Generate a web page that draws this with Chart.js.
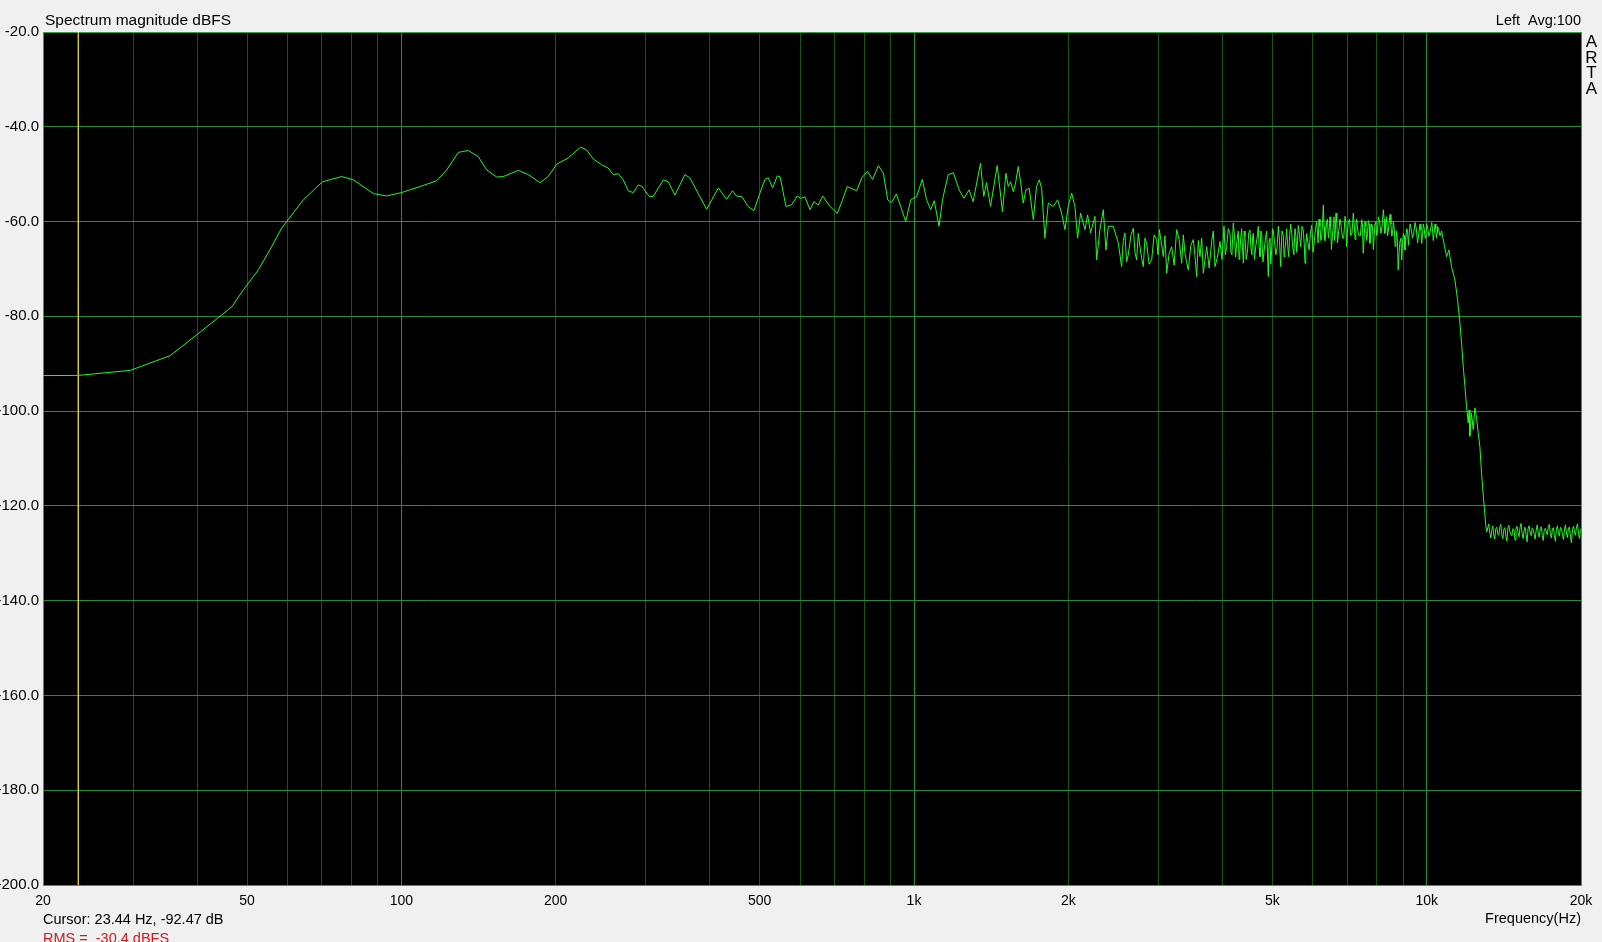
<!DOCTYPE html>
<html>
<head>
<meta charset="utf-8">
<title>Spectrum magnitude dBFS</title>
<script src="https://cdn.jsdelivr.net/npm/chart.js@4.4.1/dist/chart.umd.min.js"></script>
<style>
  html, body { margin: 0; padding: 0; background: #f0f0f0; }
  canvas { display: block; }
</style>
</head>
<body>
<canvas id="spectre" width="1602" height="942"></canvas>
<script>
const lowFreq = [20, 23.44, 29.6, 35.4, 39.9, 46.7, 49.2, 52.6, 55.4, 58.4, 64.4, 70.2, 76.5, 80.6, 88.2, 93.6, 100, 108.8, 117.2, 122.6,
  129.2, 135.1, 141.3, 146.7, 153.4, 158.1, 169.1, 176.9, 186.4, 193.4, 200.9, 211.5, 223.7, 229.8, 236.8, 245.8, 253.2, 259, 265, 270.9,
  277.1, 283.3, 289.8, 294.2, 304.5, 310, 324.3, 331.6, 341.7, 357.4, 365.5, 394, 415.3, 430.9, 442.7, 450, 462.3, 474.2, 487.2];
const lowDb = [-92.5, -92.47, -91.4, -88.3, -83.9, -78.0, -74.4, -70.2, -66.0, -61.4, -55.4, -51.6, -50.5, -51.2, -54.1, -54.6, -53.9, -52.6, -51.4, -49.1,
  -45.4, -45.0, -46.3, -49.1, -50.6, -50.5, -49.2, -50.1, -51.8, -50.5, -47.9, -46.6, -44.3, -44.9, -46.8, -48.0, -48.7, -50.1, -49.9, -51.2,
  -53.5, -53.9, -52.3, -52.5, -54.7, -54.7, -51.2, -51.6, -54.4, -50.1, -50.8, -57.4, -52.9, -55.3, -53.5, -54.6, -54.8, -56.8, -57.7];

const midFreq = [500.6, 512, 519.8, 530, 541, 548, 562.7, 577, 592, 601, 612.8, 626.7, 638, 650.6, 663.5, 685.6, 708.5, 725, 741, 773,
  790.7, 811, 830.6, 852, 871.4, 888.6, 903.4, 923.8, 942, 963.5, 985.3, 1012, 1038, 1058, 1078, 1095, 1119, 1137, 1166, 1193,
  1225, 1251, 1281, 1304, 1348, 1368, 1385, 1410, 1453, 1488, 1511, 1527, 1543, 1562, 1578, 1597, 1614, 1633, 1653, 1678,
  1709, 1734, 1755, 1774, 1800, 1828, 1869, 1906, 1940, 1970, 1999, 2030, 2060, 2085, 2113, 2155, 2181, 2210, 2254, 2271,
  2305, 2340, 2368, 2393, 2447, 2503];
const midDb = [-54.0, -51.1, -50.8, -52.9, -50.4, -50.5, -56.8, -56.5, -54.6, -55.1, -54.8, -57.5, -55.8, -56.5, -54.6, -56.8, -58.3, -55.5, -52.6, -53.5,
  -50.8, -49.4, -51.1, -48.2, -49.8, -55.4, -56.0, -54.2, -56.8, -60.0, -55.4, -54.7, -51.1, -55.4, -57.5, -55.6, -61.0, -55.3, -50.1, -49.7,
  -53.3, -55.1, -53.3, -55.8, -47.7, -54.7, -51.8, -56.8, -48.2, -57.9, -49.8, -52.6, -51.6, -53.7, -51.9, -48.4, -51.6, -56.1, -53.3, -53.0,
  -59.6, -52.6, -51.2, -53.0, -63.5, -56.1, -56.8, -55.4, -58.2, -61.7, -56.8, -54.0, -56.8, -63.5, -58.2, -61.7, -58.6, -62.4, -58.9, -68.1,
  -61.7, -57.5, -66.0, -61.0, -61.0, -64.5];

const hfFreq = [2541, 2579, 2618, 2678, 2718, 2759, 2801, 2843, 2908, 2974,
  3010, 3064, 3110, 3181, 3253, 3327, 3377, 3428, 3506, 3559,
  3613, 3667, 3723, 3807, 3864, 3952, 4024, 4072, 4134, 4170,
  4196, 4240, 4291, 4320, 4356, 4390, 4422, 4470, 4522, 4560,
  4591, 4640, 4695, 4730, 4766, 4820, 4874, 4910, 4947, 4985,
  5022, 5080, 5136, 5190, 5253, 5290, 5332, 5380, 5429, 5480,
  5535, 5580, 5619, 5680, 5747, 5790, 5833, 5900, 5966, 6040,
  6101, 6140, 6193, 6240, 6287, 6330, 6381, 6430, 6478, 6520,
  6576, 6610, 6655, 6700, 6776, 6850, 6929, 6980, 7034, 7110,
  7193, 7250, 7302, 7380, 7468, 7520, 7581, 7640, 7695, 7750,
  7811, 7870, 7929, 7990, 8049, 8140, 8232, 8290, 8356, 8420,
  8482, 8550, 8610, 8680, 8740, 8800, 8872, 8940, 9006, 9070,
  9142, 9210, 9280, 9380, 9491, 9600, 9706, 9780, 9853, 9930,
  10001, 10100, 10229, 10300, 10383, 10454, 10500, 10619, 10772];
const hfDb = [-69.5, -62.4, -67.0, -61.4, -68.1, -65.3, -69.5, -64.6, -68.1, -63.8,
  -61.7, -67.4, -70.9, -65.3, -61.7, -68.8, -66.7, -70.2, -63.8, -71.6,
  -67.4, -70.9, -65.3, -64.2, -69.5, -64.2, -61.0, -65.3, -62.5, -67.0,
  -60.3, -67.5, -62.0, -66.7, -61.5, -68.8, -63.0, -66.5, -61.8, -67.0,
  -62.5, -65.3, -61.0, -67.4, -62.5, -66.0, -62.0, -71.6, -63.5, -66.0,
  -62.0, -67.0, -61.0, -69.5, -63.0, -66.0, -61.5, -67.4, -60.5, -65.5,
  -61.5, -66.5, -60.8, -65.3, -62.0, -68.8, -62.5, -66.0, -60.8, -64.0,
  -60.0, -64.5, -61.0, -63.5, -56.5, -64.0, -60.0, -63.5, -59.0, -65.9,
  -60.5, -64.0, -58.2, -64.5, -59.5, -63.5, -58.9, -65.3, -60.0, -63.0,
  -58.2, -63.8, -59.5, -63.0, -59.6, -66.7, -60.0, -64.0, -59.8, -64.6,
  -60.5, -65.9, -60.5, -63.0, -59.0, -62.5, -57.5, -62.5, -59.0, -62.0,
  -58.5, -63.1, -60.0, -65.3, -62.0, -70.2, -64.0, -68.1, -62.5, -66.0,
  -61.5, -65.0, -60.5, -63.5, -60.2, -64.5, -60.5, -64.6, -60.5, -63.5,
  -60.5, -63.1, -60.2, -64.0, -60.5, -63.5, -61.0, -63.0, -63.8];

// pics intermediaires du bruit 2.5k - 10.7k
const hfFreqExtra = [2560, 2598, 2648, 2698, 2738, 2780, 2822, 2875, 2940, 2992,
  3037, 3087, 3145, 3217, 3290, 3352, 3402, 3467, 3532, 3586,
  3640, 3695, 3765, 3835, 3908, 3988, 4048, 4103, 4152, 4183,
  4218, 4265, 4305, 4338, 4373, 4406, 4446, 4496, 4541, 4575,
  4615, 4668, 4712, 4748, 4793, 4847, 4892, 4928, 4966, 5003,
  5051, 5108, 5163, 5221, 5271, 5311, 5356, 5404, 5454, 5507,
  5557, 5600, 5650, 5713, 5768, 5811, 5866, 5933, 6003,
  6070, 6120, 6166, 6216, 6263, 6308, 6355, 6405, 6454, 6499,
  6548, 6593, 6632, 6677, 6738, 6813, 6890, 6954, 7007, 7072,
  7150, 7221, 7276, 7341, 7424, 7494, 7550, 7610, 7667, 7722,
  7780, 7840, 7900, 7960, 8020, 8095, 8186, 8261, 8323, 8388,
  8451, 8516, 8580, 8645, 8710, 8770, 8836, 8906, 8973, 9038,
  9106, 9176, 9245, 9330, 9435, 9545, 9653, 9743, 9816, 9891,
  9965, 10050, 10165, 10265, 10341, 10418, 10477, 10560, 10695];
const hfDbExtra = [-64.0, -68.5, -63.0, -66.5, -62.5, -67.8, -63.5, -69.0, -62.8, -67.0,
  -64.5, -63.0, -66.8, -69.2, -63.8, -62.8, -68.5, -65.0, -67.2, -64.0,
  -63.5, -68.0, -69.8, -62.0, -67.5, -68.0, -67.0, -61.5, -66.5, -63.5,
  -63.0, -64.0, -68.0, -63.5, -65.5, -62.0, -68.0, -62.5, -65.5, -63.5,
  -68.0, -63.5, -65.5, -62.0, -68.5, -63.5, -66.5, -64.0, -69.0, -61.5,
  -64.5, -65.5, -64.0, -62.0, -67.5, -64.0, -65.0, -63.0, -62.5, -67.0,
  -63.0, -64.0, -63.0, -61.0, -64.5, -65.5, -64.5, -62.5, -66.5,
  -61.5, -62.0, -59.5, -64.0, -60.5, -61.0, -62.5, -59.5, -62.0, -61.0,
  -63.0, -59.0, -62.5, -60.0, -62.0, -61.0, -63.5, -60.0, -62.0, -59.5,
  -62.5, -60.5, -61.0, -62.0, -63.0, -60.5, -63.5, -61.0, -62.5, -60.5,
  -62.0, -61.0, -63.0, -60.0, -62.0, -60.0, -61.0, -59.5, -61.0, -63.0,
  -60.0, -60.5, -62.5, -61.5, -64.0, -64.5, -66.5, -63.5, -64.5, -63.0,
  -63.5, -62.0, -62.5, -61.5, -62.5, -61.5, -62.5, -61.8, -62.5, -61.5,
  -62.5, -61.5, -62.0, -61.5, -62.5, -61.5, -62.5, -61.8, -62.0];

const rolloffFreq = [10934, 11050, 11182, 11352, 11489, 11610, 11696, 11784, 11873, 11961, 12051,
  12100, 12142, 12230, 12324, 12417, 12510, 12605, 12700, 12795, 12930, 13046];
const rolloffDb = [-67.4, -66.0, -69.5, -72.3, -76.5, -81.4, -85.6, -90.5, -94.8, -99.0, -102.5,
  -99.8, -105.3, -100.5, -103.9, -99.3, -101.5, -104.5, -107.5, -113.1, -119.4, -124.3];

const floorFreq = [13100, 13220, 13340, 13460, 13580, 13700, 13830, 13950, 14080, 14210,
  14340, 14470, 14600, 14730, 14870, 15000, 15140, 15280, 15420, 15560,
  15700, 15840, 15990, 16130, 16280, 16430, 16580, 16730, 16880, 17040,
  17190, 17350, 17510, 17670, 17830, 17990, 18150, 18320, 18480, 18650,
  18820, 18990, 19160, 19340, 19510, 19690, 19870, 20000];
const floorDb = [-125.5, -123.8, -126.8, -124.2, -127.0, -124.5, -126.2, -123.9, -126.9, -124.6,
  -127.4, -124.1, -126.0, -124.8, -127.2, -124.3, -126.5, -123.7, -126.9, -124.5,
  -127.6, -124.2, -126.3, -124.9, -127.0, -124.0, -126.6, -124.4, -127.3, -124.7,
  -126.1, -123.9, -126.8, -124.6, -127.5, -124.2, -126.4, -124.8, -127.1, -124.0,
  -126.7, -124.5, -127.8, -124.3, -126.2, -123.8, -126.9, -124.8];
const floorFreqExtra = [13160, 13280, 13400, 13520, 13640, 13765, 13890, 14015, 14145, 14275,
  14405, 14535, 14665, 14800, 14935, 15070, 15210, 15350, 15490, 15630,
  15770, 15915, 16060, 16205, 16355, 16505, 16655, 16805, 16960, 17115,
  17270, 17430, 17590, 17750, 17910, 18070, 18235, 18400, 18565, 18735,
  18905, 19075, 19250, 19425, 19600, 19780, 19935];
const floorDbExtra = [-124.6, -125.8, -125.0, -126.2, -124.8, -125.9, -124.4, -126.0, -124.9, -126.5,
  -124.6, -125.5, -126.3, -125.0, -124.9, -125.6, -124.6, -125.8, -125.2, -126.1,
  -124.8, -125.7, -124.6, -126.0, -125.1, -125.8, -124.7, -126.2, -125.0, -125.5,
  -124.4, -125.9, -124.8, -126.3, -124.9, -125.6, -124.5, -126.0, -125.1, -125.7,
  -124.6, -126.4, -125.0, -125.5, -124.4, -125.9, -125.2];

// curseur
const cursorHz = 23.44;
const cursorDb = -92.47;

// graduations
const xGridValues = [20, 30, 40, 50, 60, 70, 80, 90, 100, 200, 300, 400, 500, 600, 700, 800, 900,
  1000, 2000, 3000, 4000, 5000, 6000, 7000, 8000, 9000, 10000, 20000];
const xLabelValues = [20, 50, 100, 200, 500, 1000, 2000, 5000, 10000, 20000];
const xLabelTexts = ['20', '50', '100', '200', '500', '1k', '2k', '5k', '10k', '20k'];
const xMajorValues = [100, 1000, 10000];
const yMin = -200, yMax = -20, yStep = 20;

function paires(freqs, niveaux) {
  return freqs.map(function(f, i) { return { x: f, y: niveaux[i] }; });
}

const trace = [].concat(
  paires(lowFreq, lowDb),
  paires(midFreq, midDb),
  paires(hfFreq, hfDb),
  paires(hfFreqExtra, hfDbExtra),
  paires(rolloffFreq, rolloffDb),
  paires(floorFreq, floorDb),
  paires(floorFreqExtra, floorDbExtra)
).sort(function(a, b) { return a.x - b.x; });

const police = '"Liberation Sans", Arial, sans-serif';
const couleurMineure = 'rgb(22,86,30)';
const couleurMajeure = 'rgb(42,140,54)';
const couleurCadre = 'rgb(52,160,62)';

const textesArta = {
  id: 'textesArta',
  beforeDraw: function(chart) {
    const a = chart.chartArea, c = chart.ctx;
    c.save();
    c.fillStyle = '#000';
    c.fillRect(a.left, a.top, a.right - a.left, a.bottom - a.top);
    c.restore();
  },
  afterDraw: function(chart) {
    const c = chart.ctx;
    c.save();
    c.fillStyle = '#000';
    c.textBaseline = 'alphabetic';

    c.font = '15.5px ' + police;
    c.textAlign = 'left';
    c.fillText('Spectrum magnitude dBFS', 45, 25);

    c.font = '14.5px ' + police;
    c.textAlign = 'right';
    c.fillText('Left  Avg:100', 1581, 25);

    c.font = '17px ' + police;
    c.textAlign = 'center';
    ['A', 'R', 'T', 'A'].forEach(function(l, i) {
      c.fillText(l, 1591.5, 47 + i * 15.6);
    });

    c.font = '14.5px ' + police;
    c.textAlign = 'left';
    c.fillText('Cursor: ' + cursorHz.toFixed(2) + ' Hz, ' + cursorDb.toFixed(2) + ' dB', 43, 924);
    c.textAlign = 'right';
    c.fillText('Frequency(Hz)', 1581, 923);

    c.fillStyle = 'rgb(200,30,30)';
    c.textAlign = 'left';
    c.fillText('RMS =  -30.4 dBFS', 43, 943);
    c.restore();
  }
};

var ctx = document.getElementById('spectre').getContext('2d');
var chart = new Chart(ctx, {
  type: 'line',
  data: {
    datasets: [{
      data: trace,
      borderColor: 'rgb(36,248,36)',
      borderWidth: 1,
      pointRadius: 0,
      tension: 0,
      order: 1
    }, {
      data: [{ x: cursorHz, y: yMax }, { x: cursorHz, y: yMin }],
      borderColor: 'rgb(214,204,60)',
      borderWidth: 1,
      pointRadius: 0,
      order: 2
    }]
  },
  options: {
    responsive: false,
    animation: false,
    devicePixelRatio: 1,
    events: [],
    layout: { padding: { top: 32, right: 21, left: 0, bottom: 0 }, autoPadding: false },
    plugins: { legend: { display: false }, tooltip: { enabled: false } },
    scales: {
      x: {
        type: 'logarithmic',
        min: 20,
        max: 20000,
        afterBuildTicks: function(scale) {
          scale.ticks = xGridValues.map(function(v) { return { value: v }; });
        },
        afterFit: function(scale) { scale.height = 57; },
        ticks: {
          autoSkip: false,
          maxRotation: 0,
          padding: 8,
          color: '#000',
          font: { family: police, size: 14 },
          callback: function(value) {
            var i = xLabelValues.indexOf(value);
            return i >= 0 ? xLabelTexts[i] : '';
          }
        },
        grid: {
          drawTicks: false,
          lineWidth: 1,
          color: function(c) {
            var v = c.tick ? c.tick.value : 0;
            if (v === 20 || v === 20000) return couleurCadre;
            return xMajorValues.indexOf(v) >= 0 ? couleurMajeure : couleurMineure;
          }
        },
        border: { color: couleurCadre, width: 1 }
      },
      y: {
        min: yMin,
        max: yMax,
        afterFit: function(scale) { scale.width = 43; },
        ticks: {
          stepSize: yStep,
          padding: 4,
          color: '#000',
          font: { family: police, size: 15 },
          callback: function(value) { return value.toFixed(1); }
        },
        grid: {
          drawTicks: false,
          lineWidth: 1,
          color: function(c) {
            var v = c.tick ? c.tick.value : 0;
            return (v === yMax || v === yMin) ? couleurCadre : couleurMajeure;
          }
        },
        border: { color: couleurCadre, width: 1 }
      }
    }
  },
  plugins: [textesArta]
});
</script>
</body>
</html>
